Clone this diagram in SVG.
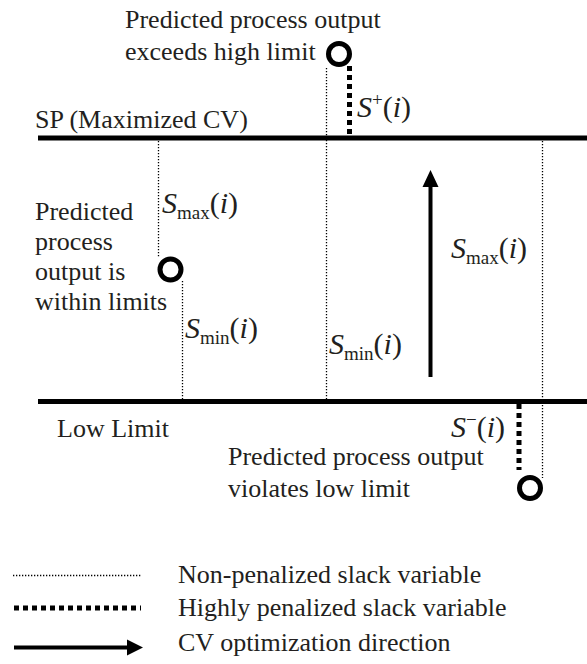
<svg xmlns="http://www.w3.org/2000/svg" width="587" height="664" viewBox="0 0 587 664">
<style>
text{font-family:"Liberation Serif","Times New Roman",serif;font-size:26px;fill:#231f20}
.m{font-size:30px}
.it{font-style:italic}
.sub{font-size:19px;font-style:normal}
.sup{font-size:19px;font-style:normal}
.thick{stroke:#000;stroke-width:5;fill:none}
.thin{stroke:#000;stroke-width:1.3;stroke-dasharray:1.3 1.7;fill:none}
.pen{stroke:#000;stroke-width:5;stroke-dasharray:5 4;fill:none}
.dot{stroke:#000;stroke-width:5;fill:#fff}
</style>
<defs>
<marker id="ah" markerWidth="4" markerHeight="4" refX="0" refY="2" orient="auto" markerUnits="strokeWidth"><path d="M0,0 L4,2 L0,4 z" fill="#000"/></marker>
</defs>
<g id="connectors">
<line class="thin" x1="326.5" y1="68" x2="326.5" y2="400"/>
<line class="thin" x1="158.5" y1="138" x2="158.5" y2="258"/>
<line class="thin" x1="182.5" y1="281" x2="182.5" y2="400"/>
<line class="thin" x1="542.5" y1="138" x2="542.5" y2="478"/>
<line class="pen" x1="349.5" y1="66" x2="349.5" y2="136"/>
<line class="pen" x1="519" y1="404" x2="519" y2="470"/>
<line class="thick" x1="430.5" y1="377" x2="430.5" y2="186" style="stroke-width:4"/>
<path d="M430.5,170 L438.5,187 L422.5,187 z" fill="#000"/>
</g>
<g id="sp-line"><line class="thick" x1="38" y1="138" x2="587" y2="138"/><text x="35" y="128">SP (Maximized CV)</text></g>
<g id="low-line"><line class="thick" x1="38" y1="401.5" x2="587" y2="401.5"/><text x="57" y="437">Low Limit</text></g>
<g id="high-output"><circle class="dot" cx="339" cy="54" r="10.5"/><text x="125" y="28">Predicted process output</text><text x="125" y="60">exceeds high limit</text></g>
<g id="within-output"><circle class="dot" cx="170.5" cy="269.5" r="10.5"/><text x="35" y="220">Predicted</text><text x="35" y="250">process</text><text x="35" y="280">output is</text><text x="35" y="310">within limits</text></g>
<g id="low-output"><circle class="dot" cx="530" cy="488" r="10.5"/><text x="228" y="465">Predicted process output</text><text x="228" y="497">violates low limit</text></g>
<g id="labels">
<text class="m" x="357" y="117"><tspan class="it">S</tspan><tspan class="sup" dy="-11">+</tspan><tspan dy="11">(</tspan><tspan class="it">i</tspan>)</text>
<text class="m" x="162" y="213"><tspan class="it">S</tspan><tspan class="sub" dy="6">max</tspan><tspan dy="-6">(</tspan><tspan class="it">i</tspan>)</text>
<text class="m" x="185" y="338"><tspan class="it">S</tspan><tspan class="sub" dy="6">min</tspan><tspan dy="-6">(</tspan><tspan class="it">i</tspan>)</text>
<text class="m" x="329" y="354"><tspan class="it">S</tspan><tspan class="sub" dy="6">min</tspan><tspan dy="-6">(</tspan><tspan class="it">i</tspan>)</text>
<text class="m" x="451" y="258"><tspan class="it">S</tspan><tspan class="sub" dy="6">max</tspan><tspan dy="-6">(</tspan><tspan class="it">i</tspan>)</text>
<text class="m" x="451" y="437"><tspan class="it">S</tspan><tspan class="sup" dy="-11">−</tspan><tspan dy="11">(</tspan><tspan class="it">i</tspan>)</text>
</g>
<g id="legend">
<line class="thin" x1="13" y1="575.5" x2="141" y2="575.5"/>
<line class="pen" x1="14" y1="608" x2="141" y2="608"/>
<line class="thick" x1="14" y1="647.5" x2="128" y2="647.5" style="stroke-width:4"/>
<path d="M143,647.5 L127,639.5 L127,655.5 z" fill="#000"/>
<text x="178" y="583">Non-penalized slack variable</text>
<text x="178" y="616">Highly penalized slack variable</text>
<text x="178" y="651">CV optimization direction</text>
</g>
</svg>
